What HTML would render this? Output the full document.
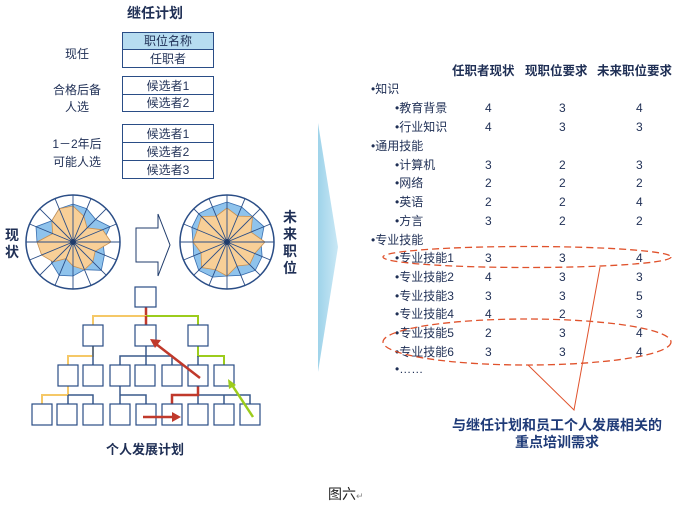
<!DOCTYPE html>
<html><head><meta charset="utf-8">
<style>
html,body{margin:0;padding:0;background:#fff;}
body{width:700px;height:507px;overflow:hidden;position:relative;font-family:"Liberation Sans","Noto Sans CJK SC",sans-serif;}
svg{position:absolute;left:0;top:0;}
text{font-family:"Liberation Sans","Noto Sans CJK SC",sans-serif;}
</style></head><body>
<svg width="700" height="507" viewBox="0 0 700 507" xmlns="http://www.w3.org/2000/svg">
<defs>
<linearGradient id="tg" x1="0" y1="0" x2="1" y2="0"><stop offset="0" stop-color="#9fd3ea"/><stop offset="1" stop-color="#c9e8f5"/></linearGradient>
</defs>
<polygon points="318,123 338,247 318,372" fill="url(#tg)"/>

<text x="155" y="18" font-size="14" font-weight="bold" fill="#1f2f55" text-anchor="middle">继任计划</text>
<g font-size="12" fill="#1f2f55" text-anchor="middle">
<rect x="122.5" y="32.5" width="91" height="17" fill="#b6dcf0" stroke="#2a4d86"/>
<rect x="122.5" y="49.5" width="91" height="18" fill="#fff" stroke="#2a4d86"/>
<text x="168" y="45">职位名称</text><text x="168" y="63">任职者</text>
<rect x="122.5" y="76.5" width="91" height="18" fill="#fff" stroke="#2a4d86"/>
<rect x="122.5" y="94.5" width="91" height="17" fill="#fff" stroke="#2a4d86"/>
<text x="168" y="90">候选者1</text><text x="168" y="107">候选者2</text>
<rect x="122.5" y="124.5" width="91" height="18" fill="#fff" stroke="#2a4d86"/>
<rect x="122.5" y="142.5" width="91" height="18" fill="#fff" stroke="#2a4d86"/>
<rect x="122.5" y="160.5" width="91" height="18" fill="#fff" stroke="#2a4d86"/>
<text x="168" y="138">候选者1</text><text x="168" y="156">候选者2</text><text x="168" y="174">候选者3</text>
<text x="77" y="58">现任</text>
<text x="77" y="94">合格后备</text><text x="77" y="111">人选</text>
<text x="77" y="148">1－2年后</text><text x="77" y="166">可能人选</text>
</g>

<g id="r1"></g><g id="r2"></g>
<polygon points="136,228 158,228 158,214 170,245 158,276 158,262 136,262" fill="#fff" stroke="#1f3b6b" stroke-width="1"/>
<g font-size="14" font-weight="bold" fill="#1f2f55" text-anchor="middle">
<text x="12" y="240">现</text><text x="12" y="257">状</text>
<text x="290" y="222">未</text><text x="290" y="239">来</text><text x="290" y="256">职</text><text x="290" y="273">位</text>
</g>

<g fill="none" stroke-width="1.5">
<path d="M146,307 V316" stroke="#c0392b" stroke-width="2.5"/>
<path d="M146,316 H93 V325" stroke="#f5c867" stroke-width="2"/>
<path d="M146,316 H198 V325" stroke="#9ccc1c" stroke-width="2"/>
<path d="M146,316 V325" stroke="#c0392b" stroke-width="2.5"/>
<path d="M93,346 V356 H68 V365" stroke="#f5c867" stroke-width="2"/>
<path d="M93,346 V365" stroke="#3a5a8c"/>
<path d="M146,346 V365 M120,365 V356 H172 V365" stroke="#3a5a8c"/>
<path d="M198,346 V356 H224 V365" stroke="#9ccc1c" stroke-width="2"/>
<path d="M198,356 V365" stroke="#3a5a8c"/>
<path d="M68,386 V395 H42 V404" stroke="#f5c867" stroke-width="2"/>
<path d="M68,395 V404 M68,395 H93 V404" stroke="#3a5a8c"/>
<path d="M120,386 V395 H146 V404 M120,395 V404" stroke="#3a5a8c"/>
<path d="M198,395 H250 V404 M198,395 V404 M224,395 V404" stroke="#3a5a8c"/>
<path d="M198,386 V395 H172 V404" stroke="#c0392b" stroke-width="2.5"/>
</g>
<g fill="#fff" stroke="#2a4d86" stroke-width="1.2">
<rect x="135" y="287" width="21" height="20"/>
<rect x="83" y="325" width="20" height="21"/><rect x="135" y="325" width="21" height="21"/><rect x="188" y="325" width="20" height="21"/>
<rect x="58" y="365" width="20" height="21"/><rect x="83" y="365" width="20" height="21"/><rect x="110" y="365" width="20" height="21"/><rect x="135" y="365" width="20" height="21"/><rect x="162" y="365" width="20" height="21"/><rect x="188" y="365" width="20" height="21"/><rect x="214" y="365" width="20" height="21"/>
<rect x="32" y="404" width="20" height="21"/><rect x="57" y="404" width="20" height="21"/><rect x="83" y="404" width="20" height="21"/><rect x="110" y="404" width="20" height="21"/><rect x="136" y="404" width="20" height="21"/><rect x="162" y="404" width="20" height="21"/><rect x="188" y="404" width="20" height="21"/><rect x="214" y="404" width="20" height="21"/><rect x="240" y="404" width="20" height="21"/>
</g>
<g stroke-width="2.5" fill="none">
<line x1="200" y1="378" x2="156" y2="344" stroke="#c0392b"/>
<line x1="143" y1="417" x2="174" y2="417" stroke="#c0392b"/>
<line x1="253" y1="417" x2="232" y2="385" stroke="#9ccc1c"/>
</g>
<polygon points="150,339 161,340 155,348" fill="#c0392b"/>
<polygon points="181,417 172,412 172,422" fill="#c0392b"/>
<polygon points="228,379 236,385 229,389" fill="#9ccc1c"/>
<text x="145" y="454" font-size="13" font-weight="bold" fill="#1f2f55" text-anchor="middle">个人发展计划</text>

<g font-size="12" fill="#1f2f55">
<text x="452" y="75" font-weight="bold" font-size="12.5">任职者现状</text>
<text x="525" y="75" font-weight="bold" font-size="12.5">现职位要求</text>
<text x="597" y="75" font-weight="bold" font-size="12.5">未来职位要求</text>
<text x="371" y="93">•知识</text>
<text x="395" y="112">•教育背景</text><text x="485" y="112">4</text><text x="559" y="112">3</text><text x="636" y="112">4</text>
<text x="395" y="131">•行业知识</text><text x="485" y="131">4</text><text x="559" y="131">3</text><text x="636" y="131">3</text>
<text x="371" y="150">•通用技能</text>
<text x="395" y="169">•计算机</text><text x="485" y="169">3</text><text x="559" y="169">2</text><text x="636" y="169">3</text>
<text x="395" y="187">•网络</text><text x="485" y="187">2</text><text x="559" y="187">2</text><text x="636" y="187">2</text>
<text x="395" y="206">•英语</text><text x="485" y="206">2</text><text x="559" y="206">2</text><text x="636" y="206">4</text>
<text x="395" y="225">•方言</text><text x="485" y="225">3</text><text x="559" y="225">2</text><text x="636" y="225">2</text>
<text x="371" y="244">•专业技能</text>
<text x="395" y="262">•专业技能1</text><text x="485" y="262">3</text><text x="559" y="262">3</text><text x="636" y="262">4</text>
<text x="395" y="281">•专业技能2</text><text x="485" y="281">4</text><text x="559" y="281">3</text><text x="636" y="281">3</text>
<text x="395" y="300">•专业技能3</text><text x="485" y="300">3</text><text x="559" y="300">3</text><text x="636" y="300">5</text>
<text x="395" y="318">•专业技能4</text><text x="485" y="318">4</text><text x="559" y="318">2</text><text x="636" y="318">3</text>
<text x="395" y="337">•专业技能5</text><text x="485" y="337">2</text><text x="559" y="337">3</text><text x="636" y="337">4</text>
<text x="395" y="356">•专业技能6</text><text x="485" y="356">3</text><text x="559" y="356">3</text><text x="636" y="356">4</text>
<text x="395" y="373">•……</text>
</g>
<g fill="none" stroke="#e0522c" stroke-width="1.3" stroke-dasharray="7,4">
<ellipse cx="527" cy="257" rx="144" ry="10.5"/>
<ellipse cx="527" cy="342" rx="144" ry="23"/>
</g>
<polyline points="600,267 574,410 528,365" fill="none" stroke="#e0522c" stroke-width="1"/>
<g font-size="14" font-weight="bold" fill="#1f3b78" text-anchor="middle">
<text x="557" y="430">与继任计划和员工个人发展相关的</text>
<text x="557" y="447">重点培训需求</text>
</g>
<text x="328" y="499" font-size="14" fill="#222">图六<tspan font-size="9" fill="#888">↵</tspan></text>
</svg>
<script>
function radar(id,cx,cy,r,blue,orange){
 var g=document.getElementById(id),s='';
 var n=16;
 function pts(arr){var p=[];for(var i=0;i<arr.length;i++){var a=-Math.PI/2+i*2*Math.PI/arr.length;p.push((cx+arr[i]*Math.cos(a)).toFixed(1)+','+(cy+arr[i]*Math.sin(a)).toFixed(1));}return p.join(' ');}
 s+='<circle cx="'+cx+'" cy="'+cy+'" r="'+r+'" fill="#fff" stroke="#2a4d86" stroke-width="1.5"/>';
 s+='<polygon points="'+pts(blue)+'" fill="#8fc3ec" stroke="#3a6fb0" stroke-width="0.8"/>';
 s+='<polygon points="'+pts(orange)+'" fill="#f8cf97" stroke="#c89050" stroke-width="0.8"/>';
 for(var i=0;i<n;i++){var a=-Math.PI/2+i*2*Math.PI/n;
  s+='<line x1="'+cx+'" y1="'+cy+'" x2="'+(cx+r*Math.cos(a)).toFixed(1)+'" y2="'+(cy+r*Math.sin(a)).toFixed(1)+'" stroke="#2a4d86" stroke-width="0.9"/>';}
 s+='<circle cx="'+cx+'" cy="'+cy+'" r="3" fill="#1f3b6b"/>';
 g.innerHTML=s;
}
radar('r1',73,242,47,[38,36,32,40,30,34,40,30,34,36,30,26,36,40,30,36],[36,28,20,32,38,24,28,30,24,18,28,34,36,22,30,36]);
radar('r2',227,242,47,[40,38,36,40,34,38,40,36,34,38,40,36,34,38,40,38],[34,28,36,26,38,30,32,26,34,30,36,28,34,32,36,28]);
</script>
</body></html>
